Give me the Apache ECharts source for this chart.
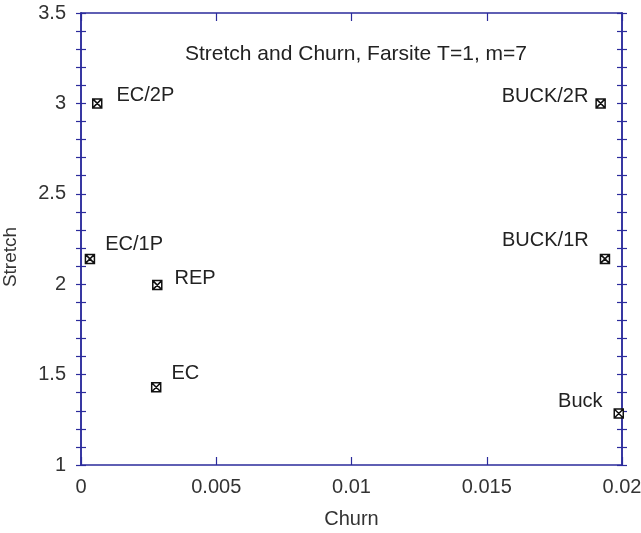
<!DOCTYPE html>
<html>
<head>
<meta charset="utf-8">
<script src="https://cdn.jsdelivr.net/npm/echarts@6/dist/echarts.min.js"></script>
<style>html,body{margin:0;padding:0;background:#fff}#c{width:641px;height:533px}</style>
</head>
<body>
<div id="c"></div>
<script>
const names = ['EC/2P', 'EC/1P', 'REP', 'EC', 'BUCK/2R', 'BUCK/1R', 'Buck'];
const churn = [0.0006, 0.00033, 0.00282, 0.00278, 0.01921, 0.01937, 0.01988];
const stretch = [3.0, 2.14, 1.995, 1.43, 3.0, 2.14, 1.285];
const xTicks = [0, 0.005, 0.01, 0.015, 0.02];
const yTicks = [1, 1.5, 2, 2.5, 3, 3.5];

const labelLayout = {
  'EC/2P':   {position: 'right', distance: 14, offset: [0, -8]},
  'EC/1P':   {position: 'right', distance: 10, offset: [0, -14]},
  'REP':     {position: 'right', distance: 12, offset: [0, -7]},
  'EC':      {position: 'right', distance: 10, offset: [0, -14]},
  'BUCK/2R': {position: 'left', distance: 7, offset: [0, -7]},
  'BUCK/1R': {position: 'left', distance: 11, offset: [0, -18]},
  'Buck':    {position: 'left', distance: 11, offset: [0, -12]}
};

const axisColor = '#2b2b9c';
const font = 'Liberation Sans, Arial, sans-serif';
const markerPath = 'path://M0,0L10,0L10,10L0,10Z M0,0L10,10 M10,0L0,10';

const data = names.map((n, i) => ({
  name: n,
  value: [churn[i], stretch[i]],
  label: Object.assign({show: true, formatter: n}, labelLayout[n])
}));

const xBase = {
  type: 'value', min: xTicks[0], max: xTicks[xTicks.length - 1], interval: 0.005,
  splitLine: {show: false},
  axisLine: {show: true, lineStyle: {color: axisColor, width: 1.5}}
};
const yBase = {
  type: 'value', min: yTicks[0], max: yTicks[yTicks.length - 1], interval: 0.5,
  splitLine: {show: false},
  axisLine: {show: true, lineStyle: {color: axisColor, width: 1.5}},
  minorTick: {show: true, splitNumber: 5, length: 5, lineStyle: {color: axisColor, width: 1.2}}
};

const option = {
  backgroundColor: '#fff',
  animation: false,
  title: {
    text: 'Stretch and Churn, Farsite T=1, m=7',
    left: 351, top: 39, textAlign: 'center',
    textStyle: {fontFamily: font, fontSize: 21, fontWeight: 'normal', color: '#222'}
  },
  grid: {left: 81, top: 13, right: 19, bottom: 68, containLabel: false, outerBoundsMode: 'none'},
  xAxis: [
    Object.assign({}, xBase, {
      position: 'bottom',
      name: 'Churn', nameLocation: 'middle', nameGap: 44,
      nameTextStyle: {fontFamily: font, fontSize: 20, color: '#333'},
      axisTick: {show: true, inside: true, length: 8, lineStyle: {color: axisColor, width: 1.2}},
      axisLabel: {show: true, fontFamily: font, fontSize: 20, color: '#333', margin: 12,
        formatter: v => String(parseFloat(v.toFixed(4)))}
    }),
    Object.assign({}, xBase, {
      position: 'top',
      axisTick: {show: true, inside: true, length: 8, lineStyle: {color: axisColor, width: 1.2}},
      axisLabel: {show: false}
    })
  ],
  yAxis: [
    Object.assign({}, yBase, {
      position: 'left',
      name: 'Stretch', nameLocation: 'middle', nameGap: 61,
      nameTextStyle: {fontFamily: font, fontSize: 19, color: '#333', padding: [0, 36, 0, 0]},
      axisTick: {show: true, inside: true, length: 5, lineStyle: {color: axisColor, width: 1.2}},
      minorTick: Object.assign({}, yBase.minorTick),
      axisLabel: {show: true, fontFamily: font, fontSize: 20, color: '#333', margin: 15,
        formatter: v => String(parseFloat(v.toFixed(2)))}
    }),
    Object.assign({}, yBase, {
      position: 'left',
      axisTick: {show: true, inside: false, length: 5, lineStyle: {color: axisColor, width: 1.2}},
      axisLabel: {show: false}
    }),
    Object.assign({}, yBase, {
      position: 'right',
      axisTick: {show: true, inside: true, length: 5, lineStyle: {color: axisColor, width: 1.2}},
      axisLabel: {show: false}
    }),
    Object.assign({}, yBase, {
      position: 'right',
      axisTick: {show: true, inside: false, length: 5, lineStyle: {color: axisColor, width: 1.2}},
      axisLabel: {show: false}
    })
  ],
  series: [{
    type: 'scatter',
    xAxisIndex: 0, yAxisIndex: 0,
    symbol: markerPath,
    symbolSize: 9,
    itemStyle: {color: '#fff', borderColor: '#111', borderWidth: 1.5, opacity: 1},
    label: {fontFamily: font, fontSize: 20, color: '#222'},
    data: data
  }]
};

const chart = echarts.init(document.getElementById('c'), null, {renderer: 'canvas'});
chart.setOption(option);
</script>
</body>
</html>
